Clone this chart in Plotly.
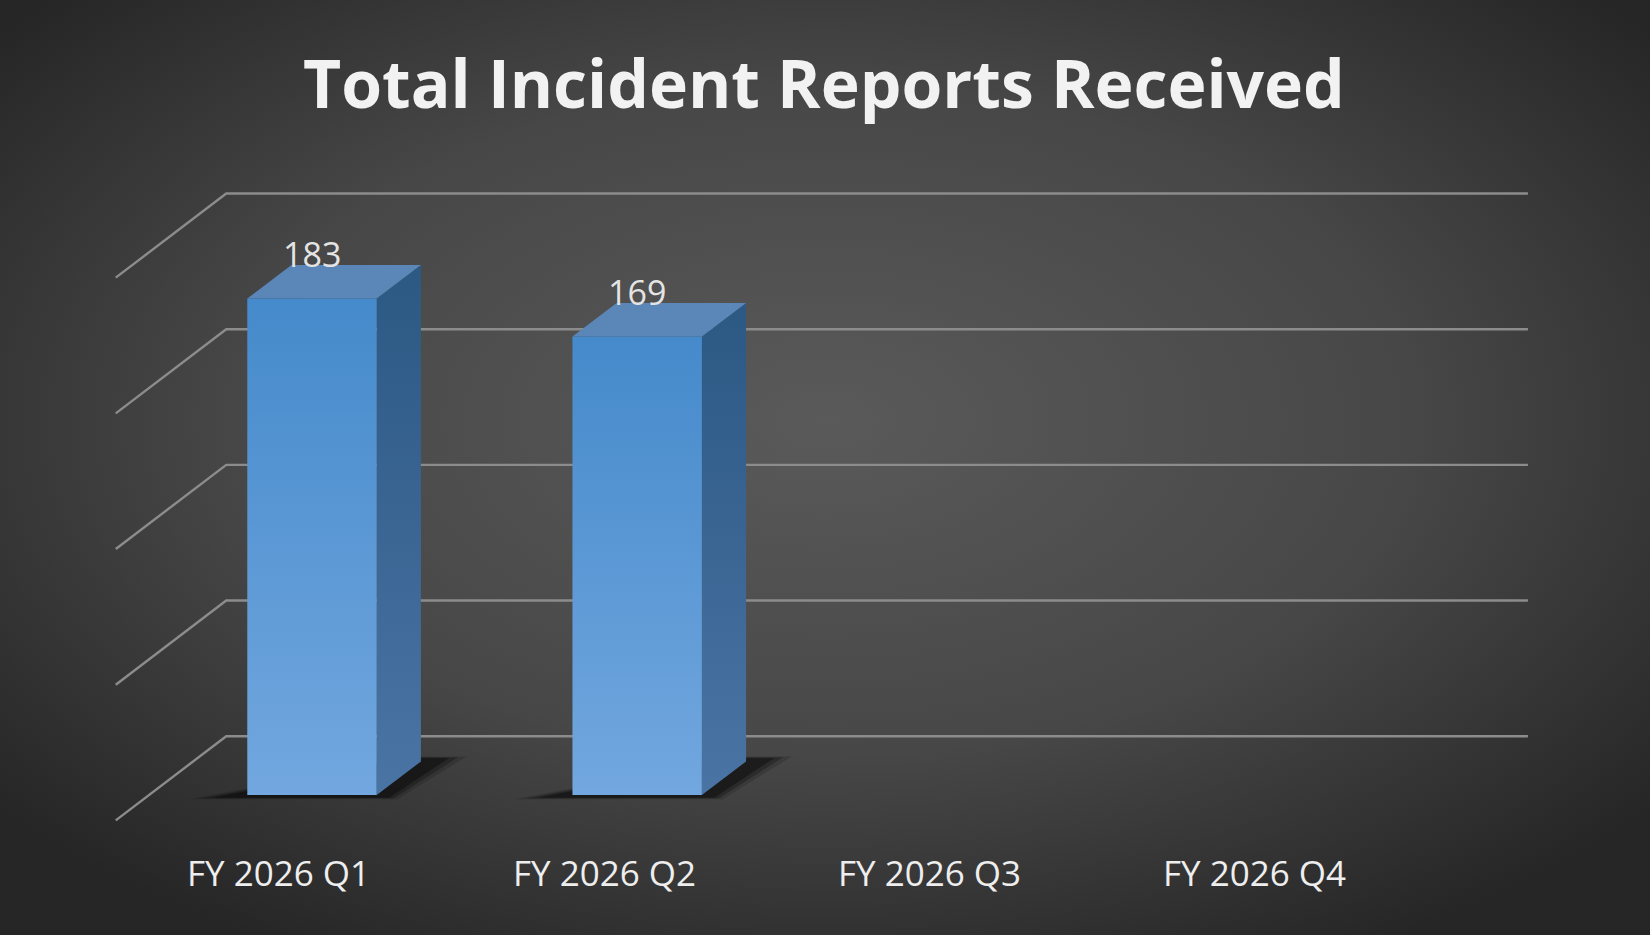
import plotly.graph_objects as go
import base64

categories = ["FY 2026 Q1", "FY 2026 Q2", "FY 2026 Q3", "FY 2026 Q4"]
values = [183, 169, None, None]
grid_values = [0, 50, 100, 150, 200]
title = "Total Incident Reports Received"

# oblique projection in image pixel space (1568 x 889 reference)
W, H = 1568, 889
X0, STEP, HALF = 265, 309, 61.5
DX, DY, FLOOR, PPU = 105, 80, 780, 2.58
WALL_LEFT, WALL_RIGHT = 110, 1347


def P(x, d, v):
    return x + DX * d, FLOOR - DY * d - PPU * v


fig = go.Figure()

for g in grid_values:
    a = P(WALL_LEFT, 0, g)
    b = P(WALL_LEFT, 1, g)
    c = P(WALL_RIGHT, 1, g)
    fig.add_trace(go.Scatter(x=[a[0], b[0], c[0]], y=[a[1], b[1], c[1]], mode="lines",
                             line=dict(color="#8c8c8c", width=2.4), hoverinfo="skip"))


def poly(pts, **kw):
    xs = [p[0] for p in pts] + [pts[0][0]]
    ys = [p[1] for p in pts] + [pts[0][1]]
    fig.add_trace(go.Scatter(x=xs, y=ys, mode="lines", fill="toself", line=dict(width=0),
                             hoverinfo="skip", **kw))


for i, v in enumerate(values):
    if v is None:
        continue
    xc = X0 + STEP * i
    xl, xr = xc - HALF, xc + HALF
    # soft shadow
    for k, op in [(1.25, 0.15), (1.0, 0.25), (0.75, 0.35)]:
        poly([P(xl - 40 * k, 0.3 - 0.04 * k, 0), P(xr + 20 * k, 0.3 - 0.04 * k, 0),
              P(xr + 30 * k, 0.72 + 0.03 * k, 0), P(xr - 10 * k, 0.72 + 0.03 * k, 0)],
             fillcolor=f"rgba(0,0,0,{op})")
    poly([P(xr, 0.3, 0), P(xr, 0.7, 0), P(xr, 0.7, v), P(xr, 0.3, v)],
         fillgradient=dict(type="vertical", colorscale=[[0, "#4a74a4"], [1, "#2c5884"]]))
    poly([P(xl, 0.3, v), P(xr, 0.3, v), P(xr, 0.7, v), P(xl, 0.7, v)], fillcolor="#5a86b8")
    poly([P(xl, 0.3, 0), P(xr, 0.3, 0), P(xr, 0.3, v), P(xl, 0.3, v)],
         fillgradient=dict(type="vertical", colorscale=[[0, "#72a7df"], [1, "#458acb"]]))
    tx, ty = P(xc, 0.3, v)
    fig.add_annotation(x=tx, y=ty - 42, text=str(v), showarrow=False,
                       font=dict(family="Open Sans", size=34, color="#e4e4e4"))

for i, c in enumerate(categories):
    fig.add_annotation(x=X0 + STEP * i, y=830, text=c, showarrow=False,
                       font=dict(family="Open Sans", size=35, color="#eeeeee"))

fig.add_annotation(x=W / 2 - 1, y=78, text="<b>" + title + "</b>", showarrow=False,
                   font=dict(family="Open Sans", size=66, color="#f2f2f2"))

svg = f"""<svg xmlns='http://www.w3.org/2000/svg' width='{W}' height='{H}' viewBox='0 0 {W} {H}' preserveAspectRatio='none'>
<defs><radialGradient id='g' cx='50%' cy='45%' r='65%'><stop offset='0' stop-color='#5a5a5a'/>
<stop offset='0.55' stop-color='#474747'/><stop offset='1' stop-color='#262626'/></radialGradient></defs>
<rect width='{W}' height='{H}' fill='url(#g)'/></svg>"""
src = "data:image/svg+xml;base64," + base64.b64encode(svg.encode()).decode()

fig.update_layout(
    width=1650, height=935, margin=dict(l=0, r=0, t=0, b=0),
    paper_bgcolor="#333333", plot_bgcolor="rgba(0,0,0,0)", showlegend=False,
    xaxis=dict(range=[0, W], visible=False, fixedrange=True),
    yaxis=dict(range=[H, 0], visible=False, fixedrange=True),
    images=[dict(source=src, xref="paper", yref="paper", x=0, y=1, sizex=1, sizey=1,
                 sizing="stretch", layer="below", xanchor="left", yanchor="top")],
)
fig.write_html("out.html", config={"displayModeBar": False},
               post_script="document.body.style.margin='0';document.body.style.overflow='hidden';document.body.style.background='#262626';")
